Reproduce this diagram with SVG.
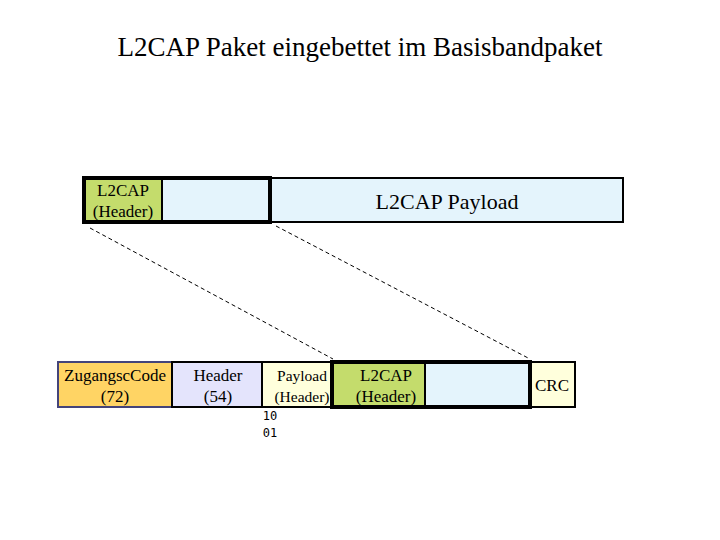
<svg xmlns="http://www.w3.org/2000/svg" width="720" height="540" viewBox="0 0 720 540">
<style>
text{font-family:"Liberation Serif",serif;fill:#000;text-anchor:middle}
.t{font-size:17px}.s{font-size:12px;font-family:"DejaVu Sans Mono",monospace}
.b{stroke:#000;stroke-width:2}
.k{fill:none;stroke:#000;stroke-width:4}
.d{stroke:#000;stroke-width:1;stroke-dasharray:4 3;fill:none}
</style>
<rect width="720" height="540" fill="#fff"/>
<text x="360" y="56" style="font-size:27px">L2CAP Paket eingebettet im Basisbandpaket</text>
<g id="connectors">
<line class="d" x1="90" y1="228" x2="333" y2="359"/>
<line class="d" x1="276" y1="226" x2="530" y2="359"/>
</g>
<g id="top-header"><rect x="84" y="178" width="78" height="44" fill="#c4dc6c" class="b"/><text class="t" x="123" y="196">L2CAP</text><text class="t" x="123" y="217">(Header)</text></g>
<g id="top-blue"><rect x="162" y="178" width="108" height="44" fill="#e4f4fc" class="b"/></g>
<g id="top-payload"><rect x="270" y="178" width="353" height="44" fill="#e4f4fc" class="b"/><text x="447" y="209" style="font-size:22px">L2CAP Payload</text></g>
<rect x="84" y="178" width="186" height="44" class="k"/>
<g id="zugang"><rect x="58" y="362" width="114" height="45" fill="#ffd464" stroke="#44447a" stroke-width="2"/><text class="t" x="115" y="381">ZugangscCode</text><text class="t" x="115" y="402">(72)</text></g>
<g id="header"><rect x="172" y="362" width="90" height="45" fill="#e4e4fc" class="b"/><text class="t" x="218" y="381">Header</text><text class="t" x="218" y="402">(54)</text></g>
<g id="payload-header"><rect x="262" y="362" width="70" height="45" fill="#ffffdc" class="b"/><text class="t" x="302" y="381" style="font-size:15.5px">Payload</text><text class="t" x="302" y="402" style="font-size:15.5px">(Header)</text></g>
<g id="l2cap-header"><rect x="332" y="362" width="93" height="45" fill="#c4dc6c" class="b"/><text class="t" x="386" y="381">L2CAP</text><text class="t" x="386" y="402">(Header)</text></g>
<g id="blue"><rect x="425" y="362" width="105" height="45" fill="#e4f4fc" class="b"/></g>
<g id="crc"><rect x="530" y="362" width="45" height="45" fill="#ffffdc" class="b"/><text class="t" x="552" y="391">CRC</text></g>
<rect x="332" y="362" width="198" height="45" class="k"/>
<text class="s" x="270" y="420">10</text>
<text class="s" x="270" y="437">01</text>
</svg>
